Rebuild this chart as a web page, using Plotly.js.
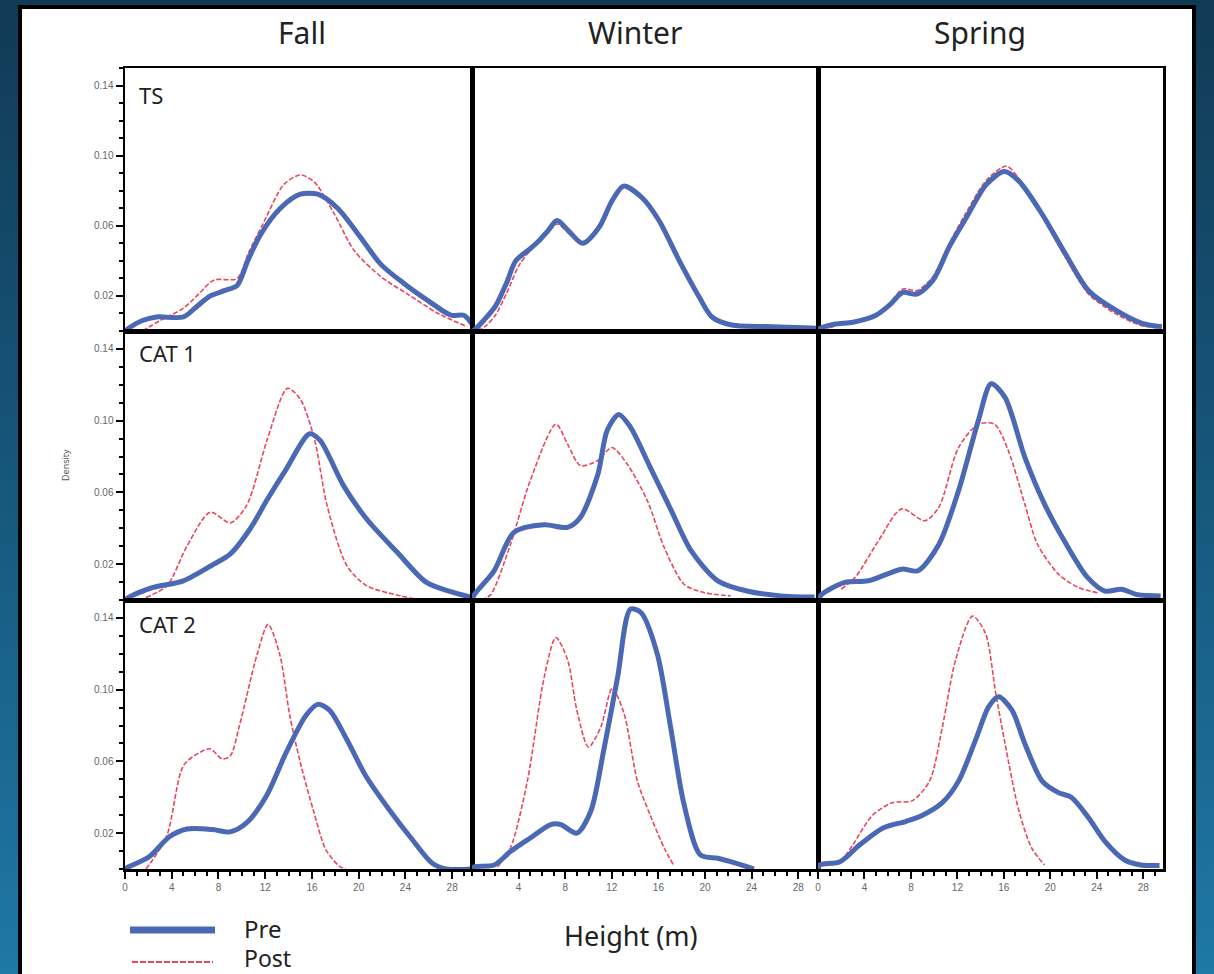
<!DOCTYPE html>
<html>
<head>
<meta charset="utf-8">
<script src="https://cdn.plot.ly/plotly-3.0.1.min.js"></script>
<style>
  html, body { margin:0; padding:0; width:1214px; height:974px; overflow:hidden;
    background: linear-gradient(to bottom, #113a55 0%, #175a80 55%, #1f78a6 100%); }
  #frame { position:absolute; left:18px; top:5px; width:1178px; height:980px;
    background:#fff; border:4px solid #000; box-sizing:border-box; }
  #chart { position:absolute; left:0; top:0; width:1214px; height:974px; }
</style>
</head>
<body>
<div id="frame"></div>
<div id="chart"></div>
<script>
// ---------- data ----------
const seasons = ["Fall", "Winter", "Spring"];
const categories = ["TS", "CAT 1", "CAT 2"];
const seriesNames = ["Pre", "Post"];
const xTickVals = [0, 4, 8, 12, 16, 20, 24, 28];
const yTickVals = [0.02, 0.06, 0.10, 0.14];

// Fall TS
const preFallTS_x = [0, 0.4, 1.5, 2.7, 5, 6.15, 7.3, 8.5, 9.6, 10.5, 11.6, 13.3, 15, 16.5, 18.2, 20.2, 21.9, 23.9, 25.9, 27.9, 29, 29.7];
const preFallTS_y = [0, 0.002, 0.006, 0.008, 0.008, 0.014, 0.020, 0.023, 0.026, 0.040, 0.055, 0.070, 0.078, 0.078, 0.070, 0.053, 0.038, 0.027, 0.0175, 0.009, 0.009, 0.004];
const postFallTS_x = [1.5, 3, 5, 6.3, 7.6, 9.6, 10.6, 11.8, 13.6, 15, 16.2, 17.9, 19.6, 21.9, 24.2, 26.8, 29.3];
const postFallTS_y = [0, 0.006, 0.013, 0.021, 0.029, 0.030, 0.045, 0.061, 0.0836, 0.089, 0.085, 0.067, 0.046, 0.031, 0.021, 0.010, 0.0025];
// Winter TS
const preWinTS_x = [0, 0.2, 1, 2, 3, 3.75, 5, 5.75, 6.5, 7.3, 8.3, 9.5, 10.9, 12, 13, 14.6, 16.05, 17.8, 19.5, 20.6, 22.3, 25.2, 29.2, 29.7];
const preWinTS_y = [0, 0.0006, 0.006, 0.014, 0.028, 0.040, 0.047, 0.0515, 0.057, 0.063, 0.057, 0.050, 0.059, 0.074, 0.0826, 0.076, 0.063, 0.040, 0.0194, 0.008, 0.0034, 0.0025, 0.0017, 0.0015];
const postWinTS_x = [0.5, 1.2, 2, 3, 4, 5, 5.75, 6.5, 7.3, 8.3, 9.5, 10.9, 12, 13, 14.6, 16.05, 17.8, 19.5, 20.6, 22.3, 25.2, 29.2];
const postWinTS_y = [0, 0.003, 0.009, 0.022, 0.037, 0.046, 0.051, 0.056, 0.061, 0.056, 0.051, 0.060, 0.075, 0.082, 0.077, 0.064, 0.041, 0.019, 0.007, 0.003, 0.002, 0.0015];
// Spring TS
const preSprTS_x = [0, 0.2, 1.5, 3, 5, 6.2, 7.3, 8.5, 9.9, 11.3, 12.8, 14.5, 16.05, 17.3, 19.3, 21.3, 23.3, 25.6, 27.9, 29.6];
const preSprTS_y = [0, 0.0015, 0.004, 0.005, 0.009, 0.015, 0.022, 0.021, 0.029, 0.048, 0.065, 0.0836, 0.091, 0.0855, 0.0666, 0.044, 0.023, 0.012, 0.0044, 0.0025];
const postSprTS_x = [0.5, 1.5, 3, 5, 6.2, 7.3, 8.5, 9.9, 11.3, 12.8, 14.5, 16.2, 17.3, 19.3, 21.3, 23.3, 25.6, 27.9, 29.6];
const postSprTS_y = [0, 0.003, 0.005, 0.009, 0.016, 0.024, 0.023, 0.031, 0.050, 0.068, 0.086, 0.094, 0.087, 0.065, 0.042, 0.021, 0.010, 0.003, 0.002];
// Fall CAT 1
const preFallC1_x = [0, 0.3, 2.4, 5, 7.6, 9, 10.7, 12.2, 13.8, 15.8, 16.7, 18.7, 20.7, 23.3, 25.8, 28.1, 29.7];
const preFallC1_y = [0, 0.0014, 0.007, 0.0107, 0.020, 0.0256, 0.0396, 0.0563, 0.073, 0.0927, 0.089, 0.0638, 0.045, 0.0266, 0.0098, 0.0042, 0.0014];
const postFallC1_x = [1.8, 3.6, 5.3, 7.3, 9, 10.4, 12.2, 13.9, 15, 16.2, 17.3, 19, 20.7, 23.6, 25.3];
const postFallC1_y = [0.0014, 0.008, 0.030, 0.049, 0.043, 0.0526, 0.090, 0.118, 0.112, 0.090, 0.0526, 0.019, 0.0079, 0.0023, 0];
// Winter CAT 1
const preWinC1_x = [0, 0.2, 1.9, 3.6, 6.2, 8.2, 9.3, 10.8, 11.6, 12.6, 13.6, 15.3, 17.1, 18.8, 21.1, 23.6, 26.5, 29.4];
const preWinC1_y = [0, 0.003, 0.0163, 0.0377, 0.042, 0.0405, 0.046, 0.070, 0.0945, 0.1035, 0.0964, 0.074, 0.050, 0.0275, 0.0107, 0.005, 0.0023, 0.0017];
const postWinC1_x = [0.8, 1.6, 3.3, 5, 7.2, 8.2, 9.3, 10.8, 12, 13.3, 15.05, 16.5, 18.2, 19.9, 22.2];
const postWinC1_y = [0, 0.003, 0.031, 0.0666, 0.098, 0.087, 0.075, 0.0778, 0.085, 0.076, 0.0554, 0.0293, 0.0088, 0.0042, 0.0023];
// Spring CAT 1
const preSprC1_x = [0, 0.3, 2.3, 4.35, 7.2, 8.6, 10.4, 12.1, 13.8, 14.9, 16.1, 17.8, 19.5, 21.2, 23.2, 24.7, 26.1, 27.5, 29.5];
const preSprC1_y = [0, 0.003, 0.0098, 0.0107, 0.0172, 0.0163, 0.031, 0.061, 0.100, 0.1206, 0.113, 0.0797, 0.0535, 0.033, 0.0126, 0.005, 0.006, 0.003, 0.0023];
const postSprC1_x = [2, 3.2, 5.2, 7.2, 9.2, 10.4, 12.1, 13.8, 15.2, 16.4, 17.8, 18.9, 20.7, 22.4, 24.1];
const postSprC1_y = [0.006, 0.0126, 0.033, 0.0508, 0.0442, 0.0517, 0.085, 0.098, 0.098, 0.083, 0.0535, 0.031, 0.0144, 0.007, 0.004];
// Fall CAT 2
const preFallC2_x = [0, 0.1, 2.1, 3.8, 5.3, 7.5, 9, 10.4, 12.1, 13.8, 15.5, 16.5, 17.5, 18.95, 20.6, 22.6, 24.6, 26.3, 27.5, 29.7];
const preFallC2_y = [0, 0.0005, 0.007, 0.018, 0.0223, 0.022, 0.0207, 0.0257, 0.0407, 0.065, 0.0857, 0.0918, 0.0886, 0.0726, 0.052, 0.0332, 0.0163, 0.0032, 0, 0];
const postFallC2_x = [1.8, 3.55, 5, 6.4, 7.3, 8.3, 9, 9.8, 11.3, 12.25, 13.25, 14.1, 15, 16.1, 17.2, 18.4, 18.9];
const postFallC2_y = [0, 0.018, 0.0576, 0.065, 0.067, 0.0614, 0.063, 0.080, 0.1195, 0.1364, 0.1195, 0.0857, 0.0595, 0.0332, 0.0107, 0.0013, 0];
// Winter CAT 2
const preWinC2_x = [0, 0.2, 1.9, 3.3, 5, 6.75, 7.6, 9, 10.2, 11.3, 12.5, 13.6, 14.5, 15.9, 17.05, 18.2, 19.6, 21.1, 22.2, 23.6, 24.2];
const preWinC2_y = [0, 0.0013, 0.0022, 0.0097, 0.0173, 0.0248, 0.0248, 0.020, 0.0323, 0.066, 0.107, 0.1449, 0.143, 0.120, 0.079, 0.036, 0.0079, 0.006, 0.0041, 0.0013, 0];
const postWinC2_x = [2.2, 3.3, 4.75, 6.2, 7.2, 8.2, 9, 10, 11.05, 12.05, 13.05, 14.2, 15.3, 16.5, 17.3];
const postWinC2_y = [0.0013, 0.0117, 0.049, 0.107, 0.129, 0.1167, 0.0886, 0.068, 0.079, 0.1008, 0.0867, 0.049, 0.030, 0.0117, 0.0022];
// Spring CAT 2
const preSprC2_x = [0, 0.15, 1.9, 3.6, 5.6, 7.6, 9, 10.7, 12.1, 13.55, 14.7, 15.55, 16.7, 17.8, 19.3, 20.7, 21.8, 23.3, 24.7, 26.4, 27.8, 29.4];
const preSprC2_y = [0, 0.0022, 0.0041, 0.0135, 0.0229, 0.0266, 0.030, 0.037, 0.049, 0.0717, 0.0905, 0.096, 0.0886, 0.070, 0.049, 0.0426, 0.040, 0.0285, 0.0154, 0.005, 0.0022, 0.002];
const postSprC2_x = [2, 3, 4.7, 6.4, 8.1, 9.6, 10.7, 11.85, 13.3, 14.4, 15.3, 16.1, 17.3, 18.4, 19.5];
const postSprC2_y = [0.004, 0.0135, 0.030, 0.037, 0.038, 0.049, 0.079, 0.1167, 0.141, 0.1317, 0.098, 0.070, 0.0323, 0.0117, 0.0022];

// ---------- build ----------
const W = 1214, H = 974;
const px = v => v / W, py = v => 1 - v / H;

const panels = [
  [[preFallTS_x, preFallTS_y, postFallTS_x, postFallTS_y], [preWinTS_x, preWinTS_y, postWinTS_x, postWinTS_y], [preSprTS_x, preSprTS_y, postSprTS_x, postSprTS_y]],
  [[preFallC1_x, preFallC1_y, postFallC1_x, postFallC1_y], [preWinC1_x, preWinC1_y, postWinC1_x, postWinC1_y], [preSprC1_x, preSprC1_y, postSprC1_x, postSprC1_y]],
  [[preFallC2_x, preFallC2_y, postFallC2_x, postFallC2_y], [preWinC2_x, preWinC2_y, postWinC2_x, postWinC2_y], [preSprC2_x, preSprC2_y, postSprC2_x, postSprC2_y]]
];

const colPx = [[125, 472], [472, 818], [818, 1163]];
const rowPx = [[68, 331], [331, 600], [600, 869]];
const PRE_COLOR = "#4a68b4", POST_COLOR = "#e8475e";

const traces = [];
const layout = {
  width: W, height: H,
  margin: {l: 0, r: 0, t: 0, b: 0},
  paper_bgcolor: "rgba(0,0,0,0)",
  plot_bgcolor: "#ffffff",
  showlegend: false,
  font: {family: "Noto Sans, Open Sans, sans-serif", color: "#222"},
  annotations: [], shapes: []
};

for (let r = 0; r < 3; r++) {
  for (let c = 0; c < 3; c++) {
    const k = r * 3 + c + 1;
    const xa = "xaxis" + (k === 1 ? "" : k), ya = "yaxis" + (k === 1 ? "" : k);
    const xr = "x" + (k === 1 ? "" : k), yr = "y" + (k === 1 ? "" : k);
    const d = panels[r][c];
    traces.push({x: d[2], y: d[3], xaxis: xr, yaxis: yr, mode: "lines", name: seriesNames[1],
      line: {color: POST_COLOR, width: 1.6, dash: "5px,2px", shape: "spline", smoothing: 0.8}, hoverinfo: "skip"});
    traces.push({x: d[0], y: d[1], xaxis: xr, yaxis: yr, mode: "lines", name: seriesNames[0],
      line: {color: PRE_COLOR, width: 5, shape: "spline", smoothing: 0.8}, hoverinfo: "skip"});
    const bottom = r === 2, left = c === 0;
    const xt = bottom ? (c === 1 ? xTickVals.slice(1) : xTickVals) : [];
    layout[xa] = {
      domain: [px(colPx[c][0]), px(colPx[c][1])],
      range: [0, 29.7], anchor: yr,
      showline: true, mirror: true, linecolor: "#000", linewidth: 2.5,
      showgrid: false, zeroline: false, fixedrange: true,
      tickmode: "array", tickvals: xt, ticktext: xt.map(String),
      ticks: bottom ? "outside" : "", ticklen: 7, tickwidth: 2, tickcolor: "#000",
      showticklabels: bottom,
      tickfont: {size: 10, color: "#666", family: "Liberation Sans, Arial, sans-serif"},
      minor: bottom ? {tickmode: "linear", tick0: 0, dtick: 1, ticks: "outside", ticklen: 4, tickwidth: 2, tickcolor: "#000", showgrid: false} : {ticks: ""}
    };
    layout[ya] = {
      domain: [py(rowPx[r][1]), py(rowPx[r][0])],
      range: [0, 0.15], anchor: xr,
      showline: true, mirror: true, linecolor: "#000", linewidth: 2.5,
      showgrid: false, zeroline: false, fixedrange: true,
      tickmode: "array", tickvals: left ? yTickVals : [], ticktext: yTickVals.map(v => v.toFixed(2)),
      ticks: left ? "outside" : "", ticklen: 7, tickwidth: 2, tickcolor: "#000",
      showticklabels: left,
      tickfont: {size: 10, color: "#666", family: "Liberation Sans, Arial, sans-serif"},
      minor: left ? {tickmode: "linear", tick0: 0, dtick: 0.01, ticks: "outside", ticklen: 4, tickwidth: 2, tickcolor: "#000", showgrid: false} : {ticks: ""}
    };
  }
}

// column titles
const colTitleX = [302, 635, 980];
seasons.forEach((s, i) => layout.annotations.push({
  text: s, xref: "paper", yref: "paper", x: px(colTitleX[i]), y: py(32),
  xanchor: "center", yanchor: "middle", showarrow: false, font: {size: 30, color: "#222"}
}));
// row labels
const rowLabelY = [95, 353, 624];
categories.forEach((s, i) => layout.annotations.push({
  text: s, xref: "paper", yref: "paper", x: px(137), y: py(rowLabelY[i]),
  xanchor: "left", yanchor: "middle", showarrow: false, font: {size: 22, color: "#222"}
}));
// axis titles
layout.annotations.push({text: "Density", xref: "paper", yref: "paper", x: px(65), y: py(465),
  textangle: -90, showarrow: false, xanchor: "center", yanchor: "middle", font: {size: 9, color: "#555"}});
layout.annotations.push({text: "Height (m)", xref: "paper", yref: "paper", x: px(631), y: py(935),
  showarrow: false, xanchor: "center", yanchor: "middle", font: {size: 27, color: "#222"}});
// legend
layout.annotations.push({text: seriesNames[0], xref: "paper", yref: "paper", x: px(242), y: py(928),
  showarrow: false, xanchor: "left", yanchor: "middle", font: {size: 24, color: "#222"}});
layout.annotations.push({text: seriesNames[1], xref: "paper", yref: "paper", x: px(242), y: py(958),
  showarrow: false, xanchor: "left", yanchor: "middle", font: {size: 23, color: "#222"}});
layout.shapes.push({type: "line", xref: "paper", yref: "paper", x0: px(130), x1: px(215), y0: py(930), y1: py(930),
  line: {color: PRE_COLOR, width: 7}});
layout.shapes.push({type: "line", xref: "paper", yref: "paper", x0: px(132), x1: px(213), y0: py(962), y1: py(962),
  line: {color: POST_COLOR, width: 2, dash: "6px,2px"}});

Plotly.newPlot("chart", traces, layout, {displayModeBar: false, staticPlot: true});
</script>
</body>
</html>
